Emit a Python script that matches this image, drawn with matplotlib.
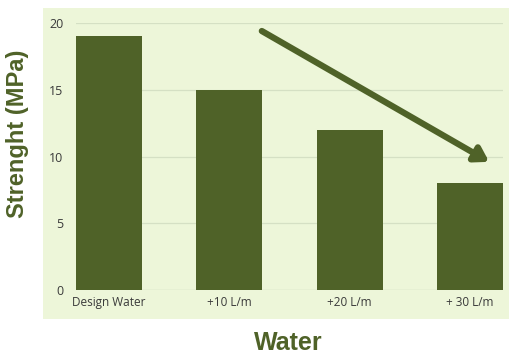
import matplotlib
matplotlib.use("Agg")
import matplotlib.pyplot as plt
from matplotlib.patches import Rectangle

# strength per water addition
categories = ["Design Water", "+10 L/m", "+20 L/m", "+ 30 L/m"]
strength = [19, 15, 12, 8]
yticks = [0, 5, 10, 15, 20]

olive = "#4F6228"
panel = "#EDF6D9"
grid_col = "#D5E0C4"

plt.rcParams["font.family"] = ["Open Sans", "DejaVu Sans"]

fig = plt.figure(figsize=(5.11, 3.54), dpi=100)
fig.patch.set_facecolor("white")

# light green panel behind the chart
fig.patches.append(Rectangle((0.084, 0.099), 0.912, 0.878, transform=fig.transFigure,
                             facecolor=panel, edgecolor="none", zorder=-1))

ax = fig.add_axes([0.1487, 0.1808, 0.8356, 0.7542])
ax.set_facecolor("none")
x = range(len(categories))
ax.bar(x, strength, width=0.55, color=olive, zorder=3)

ax.set_xlim(-0.275, 3.275)
ax.set_ylim(0, 20)
ax.set_yticks(yticks)
ax.set_xticks(list(x))
ax.set_xticklabels(categories, fontsize=8.5, color="#3a3a3a")
ax.tick_params(axis="y", labelsize=9, colors="#3a3a3a", length=0, pad=9)
ax.tick_params(axis="x", length=0, pad=4)
ax.grid(axis="y", color=grid_col, linewidth=0.9, zorder=0)
for s in ax.spines.values():
    s.set_visible(False)
ax.axhline(0, color=grid_col, linewidth=0.9, zorder=1)

# trend arrow
ax.annotate("", xy=(3.16, 9.6), xytext=(1.27, 19.4),
            arrowprops=dict(arrowstyle="-|>,head_length=0.8,head_width=0.5",
                            color=olive, lw=4.5, shrinkA=0, shrinkB=0),
            zorder=4)

fig.text(0.035, 0.623, "Strenght (MPa)", rotation=90, ha="center", va="center",
         fontsize=17, fontweight="bold", color=olive, family="Liberation Sans")
fig.text(0.564, 0.03, "Water", ha="center", va="center",
         fontsize=18, fontweight="bold", color=olive, family="Liberation Sans")

fig.savefig("out.png", dpi=100, facecolor="white")
